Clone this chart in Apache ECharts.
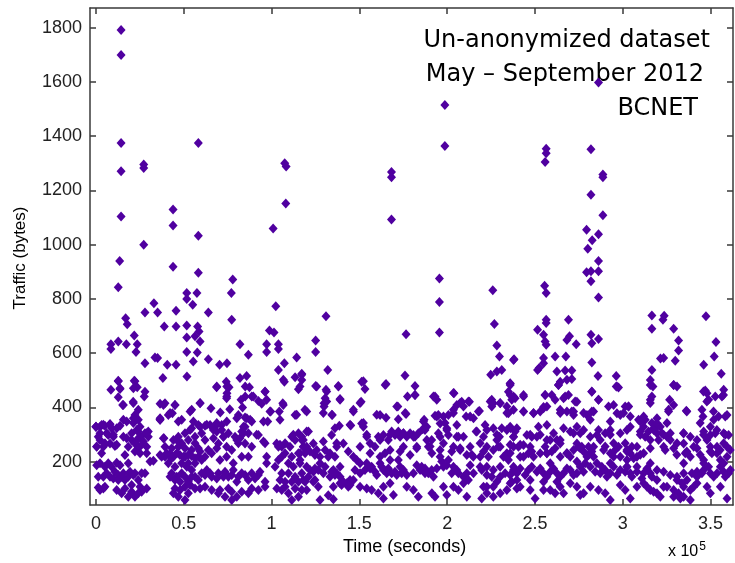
<!DOCTYPE html>
<html>
<head>
<meta charset="utf-8">
<script src="https://cdn.jsdelivr.net/npm/echarts@6/dist/echarts.min.js"></script>
<style>
  html, body { margin: 0; padding: 0; background: #ffffff; }
  #chart { width: 735px; height: 563px; }
</style>
</head>
<body>
<div id="chart"></div>
<script>
// Each point: [time in thousands of seconds, traffic in bytes]

// Bursts above ~770 bytes
const highTraffic = [
  [14.3,1792],[14.3,1700],[14.3,1375],[14.3,1271],[27.2,1296],[27.2,1283],[14.3,1104],[13.5,940],[12.7,843],
  [58.3,1375],[43.9,1130],[43.9,1071],[58.3,1033],[27.2,1000],[43.9,919],[58.3,897],[77.9,872],
  [51.7,822],[57.5,822],[77.1,822],[51.7,800],[33.0,784],[55.1,779],[102.4,773],
  [107.5,1300],[108.3,1288],[108.1,1152],[100.9,1060],[168.3,1268],[168.3,1249],[168.3,1093],
  [198.7,1515],[198.7,1364],[195.6,875],[195.6,789],[226.0,832],
  [256.4,1354],[256.4,1337],[255.8,1305],[255.5,849],[256.4,822],
  [281.9,1352],[286.2,1598],[288.7,1259],[288.7,1249],[281.9,1184],[288.7,1109],[279.4,1055],[286.2,1039],
  [282.6,1016],[280.1,985],[286.2,940],[279.4,898],[281.9,902],[286.2,902],[281.9,865],[286.2,805]
];

// 0 – 120 ks
const spanA = [
  [27.9,750],[35.1,750],[45.6,756],[64.0,750],[16.9,729],[17.8,707],[38.9,698],[45.6,698],[51.7,702],[57.9,698],
  [58.7,680],[77.3,723],[98.8,684],[101.4,676],[21.8,665],[51.7,658],[56.4,662],[12.7,643],[8.5,633],[8.5,615],
  [17.3,633],[23.5,633],[22.8,604],[59.3,643],[82.0,633],[86.8,594],[97.2,633],[97.2,604],[103.9,633],[103.9,615],
  [51.7,604],[57.7,602],[33.6,584],[35.1,582],[27.9,563],[40.6,557],[45.6,557],[55.4,569],[64.0,578],[70.4,557],
  [74.6,563],[114.3,584],[107.3,563],[103.9,538],
  [38.1,508],[51.8,514],[68.7,474],[74.2,495],[75.8,474],[82.0,508],[85.8,516],[87.4,474],[12.7,498],[21.8,498],
  [8.5,465],[13.7,468],[23.5,474],[27.9,458],[12.7,437],[27.5,440],[21.2,421],[15.2,409],[36.5,413],[39.3,415],
  [45.0,409],[59.3,415],[65.5,397],[74.4,434],[74.6,452],[82.6,428],[83.5,400],[88.7,440],[92.5,424],[96.3,458],
  [97.2,428],[94.4,413],[107.3,495],[113.4,511],[117.2,524],[115.3,467],[106.4,415],[99.5,385],[104.4,385],[113.4,372],
  [54.5,391],[24.1,391],[22.2,372],[36.5,360],[41.2,372],[43.5,378],[48.8,354],[70.8,381],[76.2,393],[81.1,372],
  [84.9,363],[88.7,348],[97.8,348],
  [0.0,329],[3.2,335],[8.0,339],[1.3,292],[6.1,305],[5.1,264],[11.8,323],[13.7,332],[17.5,348],[21.3,360],
  [24.1,354],[23.2,317],[15.6,292],[20.3,305],[25.1,292],[27.9,305],[29.8,311],[18.4,255],[10.8,258],[3.2,231],
  [16.5,224],[22.2,237],[25.1,231],[28.9,231],[0.4,187],[7.0,194],[11.8,196],[13.7,187],[18.4,194],[1.3,144],
  [6.1,157],[10.8,163],[12.7,151],[15.6,157],[18.4,144],[21.3,151],[24.1,132],[27.9,157],[30.8,200],[32.7,203],
  [1.3,105],[4.2,101],[11.8,95],[16.5,101],[20.3,89],[22.2,70],[26.0,89],[28.9,101],
  [38.7,286],[36.5,354],[44.1,280],[46.9,292],[50.7,305],[54.5,323],[58.3,335],[62.1,332],[65.0,335],[68.7,335],
  [71.6,335],[48.8,268],[52.6,280],[56.4,268],[59.3,237],[64.0,243],[66.9,286],[72.6,292],[74.4,255],[77.3,243],
  [81.1,268],[83.0,311],[84.9,329],[86.8,305],[36.5,224],[39.3,218],[42.2,228],[44.1,218],[47.8,224],[50.7,218],
  [54.5,221],[58.3,218],[65.9,231],[70.6,206],[74.4,218],[78.2,194],[83.0,218],[86.8,218],[88.7,255],[92.5,298],
  [96.3,268],[97.2,218],[97.2,194],[43.1,157],[46.0,144],[48.8,157],[51.7,181],[54.5,169],[56.4,144],[60.2,157],
  [63.1,169],[65.9,144],[69.7,157],[73.5,163],[75.4,144],[78.2,169],[81.1,144],[84.9,151],[88.7,157],[92.5,151],
  [96.3,126],[45.0,101],[50.7,107],[53.6,114],[59.3,101],[65.9,95],[70.6,95],[75.4,101],[77.3,89],[80.2,70],
  [46.9,70],[50.7,58],[88.7,101],
  [103.9,255],[107.7,268],[111.5,292],[115.3,305],[117.2,280],[107.7,231],[111.5,218],[115.3,231],[103.9,206],[105.8,157],
  [109.6,157],[113.4,144],[117.2,157],[103.0,101],[105.8,95],[109.6,83],[113.4,101],[117.2,95],[115.3,70],
  [0.0,329],[2.3,329],[5.1,332],[8.9,323],[7.0,298],[2.3,280],[0.4,255],[4.2,255],[8.0,267],[9.9,292],
  [20.3,280],[22.2,267],[24.1,255],[27.0,274],[29.8,292],[28.9,255],[24.1,311],
  [2.3,194],[5.1,181],[8.9,181],[4.2,144],[8.0,144],[9.9,138],[12.7,132],[14.6,144],[16.5,132],[19.4,163],
  [22.2,157],[26.0,157],[20.3,114],[25.1,107],[2.3,95],[5.1,107],[14.6,83],[18.4,70],[24.1,83],
  [37.4,218],[40.3,231],[43.1,212],[46.0,231],[49.8,218],[52.6,224],[56.4,212],[41.2,194],[45.0,181],[48.8,194],
  [52.6,194],[56.4,194],[60.2,206],[62.1,218],[39.3,255],[43.1,249],[46.9,255],[50.7,249],[54.5,243],[58.3,249],
  [42.2,144],[45.0,132],[47.9,126],[50.7,144],[52.6,126],[54.5,144],[58.3,132],[62.1,151],[65.0,157],[68.8,138],
  [72.6,144],[77.3,151],[80.2,126],[83.0,157],[86.8,132],[90.6,138],[93.4,163],
  [47.9,95],[44.1,83],[52.6,83],[56.4,101],[62.1,107],[69.7,83],[73.5,70],[77.3,58],[83.0,89],[86.8,83],
  [92.5,95],[96.3,107],
  [68.8,311],[71.6,317],[75.4,305],[79.2,292],[82.0,286],[84.9,267],[69.7,267],[68.8,249],[62.1,280],[60.2,305],
  [56.4,292],
  [102.9,267],[105.8,255],[110.5,255],[113.4,280],[118.1,255],[105.8,218],[109.6,194],[112.4,181],[116.2,194],[102.0,181],
  [104.8,132],[107.7,126],[111.5,126],[115.3,126],[118.1,132],[107.7,107],[111.5,58]
];

// 116 – 240 ks
const spanB = [
  [131.0,736],[226.9,708],[176.6,670],[195.6,676],[125.1,647],[125.1,604],[228.3,628],[229.8,588],[238.1,578],[132.0,538],
  [224.8,520],[228.3,532],[231.1,538],[117.2,520],[117.2,501],[176.0,518],[151.3,495],[165.2,486],[125.1,479],[138.0,479],
  [181.7,479],[153.2,468],[131.0,465],[177.4,440],[181.7,446],[139.0,431],[235.9,487],[237.8,440],[234.9,458],[130.5,434],
  [129.9,415],[129.9,403],[151.0,421],[193.1,440],[194.1,428],[203.9,452],[205.5,409],[208.3,421],[212.7,421],[203.6,391],
  [200.7,372],[119.0,391],[134.6,372],[146.6,391],[171.9,403],[161.8,372],[165.2,362],[172.2,356],[176.6,376],[193.1,369],
  [195.0,372],[225.4,428],[226.3,415],[230.2,415],[218.4,387],[215.0,360],[210.8,366],[234.0,403],[234.9,378],[237.8,391],
  [121.0,311],[136.1,323],[138.6,332],[145.1,333],[151.3,341],[152.3,329],[186.9,354],[188.4,329],[186.1,319],[196.0,341],
  [197.9,366],[199.8,323],[205.5,335],[216.5,311],[221.6,335],[226.3,323],[231.1,323],[236.2,323],[229.8,292],
  [117.2,292],[118.1,255],[119.1,231],[116.2,231],[124.7,224],[130.5,243],[134.2,298],[137.1,255],[132.3,218],[136.1,218],
  [127.6,194],[130.5,181],[135.2,169],[139.0,181],[143.7,237],[146.6,218],[148.5,206],[150.4,194],[154.2,292],[156.1,268],
  [156.1,231],[158.9,255],[160.8,292],[163.7,298],[166.5,280],[170.3,298],[173.2,292],[177.0,292],[180.8,298],[183.6,305],
  [161.8,218],[164.6,231],[167.5,206],[172.2,206],[173.2,237],[178.9,224],[182.7,187],[189.3,255],[191.3,231],[196.0,292],
  [197.9,268],[200.7,298],[203.6,255],[206.4,292],[209.3,292],[207.4,243],[211.2,224],[213.1,255],[218.8,268],[220.7,292],
  [223.5,218],[226.3,243],[230.2,255],[234.0,231],[237.8,255],
  [121.9,169],[124.7,175],[119.1,126],[121.0,144],[123.8,126],[129.5,157],[133.3,144],[137.1,157],[139.0,120],[143.7,107],
  [144.7,132],[147.5,169],[150.4,157],[153.2,169],[156.1,175],[159.9,151],[162.7,181],[165.6,157],[168.4,157],[171.3,151],
  [174.1,157],[177.0,151],[180.8,157],[184.6,169],[187.4,175],[189.3,157],[194.1,175],[196.9,200],[199.8,187],[202.6,157],
  [205.5,169],[209.3,144],[213.1,187],[215.0,157],[218.8,181],[222.6,151],[226.3,169],[230.2,144],[233.0,157],[235.9,151],
  [239.7,163],
  [120.0,95],[124.7,132],[126.6,107],[132.3,76],[135.2,61],[139.9,114],[142.8,120],[154.2,101],[157.0,95],[160.8,83],
  [163.7,64],[167.5,120],[169.4,77],[180.8,95],[191.3,83],[193.1,70],[199.8,77],[206.4,95],[209.3,120],[220.7,107],
  [222.6,83],[219.7,64],[226.3,107],[234.0,95],[239.7,101],
  [118.1,280],[120.0,255],[121.9,237],[116.2,206],[125.7,243],[123.8,267],[127.6,218],[120.0,181],[123.8,163],[126.6,169],
  [134.2,163],[136.1,151],[139.0,144],[140.9,126],[144.7,114],[146.6,132],[154.2,194],[157.0,181],[158.9,163],[161.8,194],
  [163.7,169],[166.5,175],[170.3,163],[173.2,181],[175.1,169],[168.4,311],[172.2,311],[175.1,305],[178.9,305],[181.7,292],
  [185.5,181],[187.4,157],[191.2,169],[192.2,144],[196.0,218],[197.9,181],[200.7,206],[203.6,181],[206.4,157],[211.2,157],
  [212.1,132],[219.7,169],[222.6,181],[225.4,144],[228.3,126],[230.2,181],[232.1,218],[234.9,206],[237.8,181],[239.7,132],
  [235.9,120],[222.6,107],[226.3,70],[230.2,83],[135.2,107],[127.6,58],[150.4,107],[163.7,107],[177.0,107],[183.6,70],
  [197.9,107],[203.6,107],[211.2,70],[214.9,218],[218.8,218],[222.6,255],[228.3,280],[237.8,292],[188.4,280],[191.2,280],
  [182.7,255],[175.1,255],[167.5,243],[150.4,255],[140.9,267],[133.3,231]
];

// 236 – 363 ks
const spanC = [
  [316.6,739],[323.6,738],[322.9,723],[347.4,736],[256.4,723],[256.4,711],[269.1,723],[251.5,686],[316.6,690],[329.0,690],
  [254.9,668],[255.8,643],[256.4,631],[269.7,662],[268.2,649],[273.5,633],[281.9,668],[282.4,637],[286.2,652],[331.8,647],
  [331.8,610],[353.1,641],[237.8,575],[254.9,582],[254.9,563],[261.5,588],[267.6,588],[282.4,566],[323.3,582],[321.5,580],
  [329.9,572],[352.1,588],[346.1,557],[251.5,538],[252.4,545],[262.5,532],[267.2,536],[271.0,536],[271.0,505],[264.4,495],
  [263.4,483],[285.9,516],[296.3,516],[296.3,477],[297.6,473],[316.6,538],[315.7,501],[317.2,477],[329.0,483],[330.9,477],
  [356.1,524],[235.9,489],[236.8,428],[238.7,434],[243.5,440],[255.8,446],[259.6,446],[261.5,428],[266.3,434],[269.1,446],
  [267.2,440],[282.4,458],[286.2,428],[273.9,421],[315.7,428],[316.6,440],[326.7,428],[329.0,409],[326.1,391],[336.2,388],
  [347.0,462],[348.9,428],[348.0,452],[352.7,440],[356.5,440],[357.5,465],[243.5,385],[249.2,378],[253.0,385],[254.9,401],
  [256.8,403],[264.4,391],[268.2,385],[271.0,385],[272.0,372],[279.6,372],[282.4,385],[281.5,354],[291.9,403],[296.7,378],
  [298.6,372],[301.4,403],[303.3,403],[304.3,366],[304.3,329],[319.5,360],[321.4,329],[345.1,391],[345.7,366],[351.8,354],
  [354.6,366],[359.4,372],
  [235.9,329],[238.7,311],[237.8,292],[235.9,231],[245.4,298],[248.2,292],[251.1,292],[240.6,255],[243.5,261],[246.3,231],
  [243.5,218],[252.0,329],[256.8,335],[255.8,255],[256.8,231],[259.6,237],[260.6,305],[262.5,280],[266.3,323],[270.1,311],
  [273.9,329],[275.8,305],[264.4,218],[268.2,231],[272.0,243],[274.8,255],[277.7,237],[280.5,224],[283.4,255],[281.5,292],
  [285.3,298],[287.2,280],[290.0,305],[292.9,317],[294.8,268],[297.6,255],[292.9,231],[289.1,243],[298.6,305],[301.4,268],
  [305.2,255],[304.3,231],[308.1,255],[302.4,206],[306.2,212],[312.8,354],[311.9,329],[314.7,311],[317.6,323],[319.5,305],
  [315.7,280],[320.4,280],[323.3,255],[325.2,292],[327.1,280],[329.0,249],[330.9,268],[334.7,305],[338.5,292],[340.4,255],
  [342.3,249],[335.6,231],[338.5,218],[346.1,311],[349.9,298],[348.0,280],[352.7,305],[357.5,305],[360.3,298],[349.9,255],
  [353.7,255],[357.5,268],[359.4,218],[355.6,206],[350.8,231],[346.1,206],
  [237.8,169],[241.6,175],[246.3,169],[251.1,163],[254.9,157],[258.7,163],[262.5,157],[266.3,157],[270.1,169],[273.9,157],
  [277.7,163],[281.5,181],[284.3,163],[287.2,157],[290.0,169],[292.9,157],[296.7,151],[301.4,163],[304.3,157],[308.1,163],
  [311.9,157],[315.7,157],[319.5,169],[323.3,163],[327.1,151],[330.9,144],[334.7,157],[339.4,157],[342.3,163],[346.1,169],
  [349.9,157],[353.7,157],[357.5,163],[360.3,157],
  [236.8,126],[241.6,107],[247.3,95],[250.1,64],[254.9,126],[258.7,95],[261.5,83],[264.4,107],[273.9,107],[275.8,77],
  [281.5,107],[286.2,95],[290.0,83],[298.6,114],[301.4,95],[304.3,64],[308.1,107],[311.9,120],[315.7,95],[319.5,83],
  [323.3,107],[329.0,70],[332.8,64],[334.7,107],[338.5,95],[342.3,120],[348.0,107],[349.9,83],[355.6,107],[359.4,64],
  [249.2,218],[258.7,194],[273.9,200],[292.9,194],[302.4,181],[315.7,194],[334.7,194],[346.1,194],[357.5,194],
  [239.7,157],[244.4,151],[248.2,181],[253.0,175],[256.8,144],[260.6,175],[264.4,144],[268.2,175],[272.0,151],[275.8,181],
  [278.6,194],[279.6,218],[276.7,255],[280.5,255],[283.4,218],[285.3,194],[288.1,181],[291.0,144],[294.8,181],[298.6,169],
  [302.4,181],[305.2,144],[308.1,181],[310.9,138],[313.8,175],[316.6,144],[319.5,132],[309.0,354],[311.9,366],[310.0,311],
  [312.8,292],[316.6,342],[319.5,329],[322.3,305],[325.2,342],[327.1,305],[330.9,132],[333.7,120],[336.6,132],[340.4,107],
  [342.3,144],[345.1,157],[348.9,181],[351.8,144],[355.6,181],[358.4,144],[361.3,169],[329.0,95],[331.8,83],[334.7,70],
  [338.5,58],[313.8,107],[317.6,89],[321.4,70],[325.2,107],[254.9,95],[266.3,83],[277.7,83],[292.9,58],[247.3,132],
  [262.5,126],[270.1,120],[241.6,218],[247.3,255],[253.0,231],[258.7,280],[264.4,267],[270.1,218],[273.9,267],[294.8,218],
  [298.6,218],[302.4,243],[308.1,218],[311.9,231],[334.7,267],[342.3,280],[349.9,329],[353.7,231],[359.4,255]
];

// 220 – 500 bytes band, whole period
const midBand = [
  [12.7,496],[22.2,496],[21.3,471],[13.7,471],[15.6,409],[21.3,416],[38.4,409],[45.0,409],[59.3,416],[68.8,477],
  [74.5,477],[85.0,477],[74.5,440],[85.0,440],[89.6,440],[96.3,459],[106.7,502],[116.2,477],[125.7,477],[131.4,459],
  [138.1,477],[152.3,496],[164.7,483],[131.4,422],[139.0,428],[150.4,416],[99.1,385],[106.7,409],[114.3,373],[120.0,385],
  [129.5,379],[134.3,373],[146.6,385],[159.9,373],[171.3,403],[176.1,379],[80.2,360],[85.9,360],[53.6,385],[42.2,379],
  [36.5,354],[46.9,348],[55.5,348],[63.1,336],[68.8,342],[74.5,348],[84.0,329],[87.8,354],[95.4,348],[104.8,354],
  [0.0,329],[4.2,336],[8.0,336],[15.6,354],[21.3,342],[25.1,329],[38.4,286],[46.0,280],[53.6,317],[59.3,329],
  [66.9,317],[72.6,292],[80.2,280],[84.0,305],[91.5,299],[95.4,274],[104.8,262],[112.4,299],[120.0,311],[129.5,274],
  [137.1,268],[144.7,336],[152.3,342],[154.2,299],[161.8,280],[167.5,299],[175.1,305],[2.3,305],[9.9,299],[17.5,286],
  [23.2,280],[28.9,305],[0.4,256],[5.1,268],[11.8,262],[25.1,256],
  [181.7,446],[192.2,440],[203.6,453],[207.4,416],[212.1,422],[224.5,422],[230.2,416],[235.9,483],[235.9,446],[243.5,446],
  [255.8,446],[263.4,483],[268.2,502],[272.9,422],[282.4,459],[286.2,428],[296.7,477],[294.8,409],[303.3,403],[315.7,483],
  [315.7,416],[329.0,483],[346.0,459],[357.4,446],[347.9,422],
  [186.5,348],[194.1,366],[198.8,342],[203.6,379],[209.3,403],[213.1,366],[217.8,385],[225.4,403],[234.0,379],[243.5,385],
  [249.2,379],[254.9,397],[264.4,379],[272.0,385],[277.7,379],[283.4,385],[292.9,348],[300.5,379],[310.0,348],[319.4,342],
  [326.1,385],[336.5,385],[344.1,342],[351.7,385],[358.4,366],
  [180.8,292],[187.4,317],[195.0,305],[199.8,317],[205.5,292],[216.9,311],[222.6,317],[228.3,299],[234.0,317],[239.7,323],
  [247.3,299],[253.0,299],[256.8,280],[264.4,280],[272.0,305],[277.7,317],[286.2,317],[292.9,299],[302.4,317],[310.0,299],
  [317.6,317],[323.3,299],[334.6,305],[346.0,299],[353.6,317],[358.4,299],
  [182.7,249],[190.3,256],[196.0,243],[202.6,237],[207.4,249],[214.0,225],[220.7,237],[229.2,256],[235.9,262],[241.6,262],
  [248.2,237],[256.8,231],[261.5,249],[268.2,231],[275.8,249],[282.4,237],[290.0,256],[295.7,243],[302.4,237],[310.0,225],
  [315.7,249],[324.2,243],[330.8,225],[336.5,237],[344.1,225],[349.8,237],[355.5,243],[361.2,243]
];

const xTickValues = [0, 50000, 100000, 150000, 200000, 250000, 300000, 350000];
const yTickValues = [200, 400, 600, 800, 1000, 1200, 1400, 1600, 1800];

const points = [].concat(highTraffic, spanA, spanB, spanC, midBand).map(p => [p[0] * 1000, p[1]]);

const frameColor = '#3a3a3a';
const labelFont = { fontFamily: 'Liberation Sans', fontSize: 18, color: '#222222' };

const chart = echarts.init(document.getElementById('chart'), null, { renderer: 'canvas' });

function boxAxis(position, ticks, extra) {
  return Object.assign({
    type: 'value',
    position: position,
    axisLine: { show: true, onZero: false, lineStyle: { color: frameColor, width: 1.5 } },
    axisTick: { show: true, inside: true, length: 6, customValues: ticks, lineStyle: { color: frameColor, width: 1.5 } },
    axisLabel: { show: false },
    splitLine: { show: false }
  }, extra);
}

chart.setOption({
  animation: false,
  backgroundColor: '#ffffff',
  grid: { left: 90, right: 2, top: 8, bottom: 58, containLabel: false },
  xAxis: [
    boxAxis('bottom', xTickValues, {
      min: -3400, max: 362800,
      axisLabel: Object.assign({ show: true, customValues: xTickValues, margin: 10,
        formatter: v => String(+(v / 100000).toFixed(1)) }, labelFont)
    }),
    boxAxis('top', xTickValues, { min: -3400, max: 362800 })
  ],
  yAxis: [
    boxAxis('left', yTickValues, { min: 40, max: 1873,
      axisLabel: Object.assign({ show: true, customValues: yTickValues, margin: 8,
        formatter: v => String(v) }, labelFont) }),
    boxAxis('right', yTickValues, { min: 40, max: 1873 })
  ],
  series: [{
    type: 'scatter',
    xAxisIndex: 0,
    yAxisIndex: 0,
    data: points,
    symbol: 'diamond',
    symbolSize: [9, 10],
    itemStyle: { color: '#5000a0', opacity: 1 },
    emphasis: { disabled: true }
  }],
  graphic: [
    { type: 'text', left: 343, top: 538, style: Object.assign({ text: 'Time (seconds)' }, labelFont, { fontSize: 18 }) },
    { type: 'text', x: 20, y: 258, rotation: Math.PI / 2,
      style: Object.assign({ text: 'Traffic (bytes)', align: 'center', verticalAlign: 'middle' }, labelFont, { fontSize: 17 }) },
    { type: 'text', x: 668, y: 552,
      style: { text: '{b|x 10}{s|5}', verticalAlign: 'middle',
        rich: { b: { fontFamily: 'Liberation Sans', fontSize: 16, color: '#222222' },
                s: { fontFamily: 'Liberation Sans', fontSize: 12, color: '#222222', verticalAlign: 'top', padding: [0, 0, 10, 1] } } } },
    { type: 'text', x: 710, y: 41, style: { text: 'Un-anonymized dataset', align: 'right', verticalAlign: 'middle', fontFamily: 'DejaVu Sans', fontSize: 24, fill: '#000000' } },
    { type: 'text', x: 704, y: 75, style: { text: 'May \u2013 September 2012', align: 'right', verticalAlign: 'middle', fontFamily: 'DejaVu Sans', fontSize: 24, fill: '#000000' } },
    { type: 'text', x: 698, y: 109, style: { text: 'BCNET', align: 'right', verticalAlign: 'middle', fontFamily: 'DejaVu Sans', fontSize: 24, fill: '#000000' } }
  ]
});
</script>
</body>
</html>
